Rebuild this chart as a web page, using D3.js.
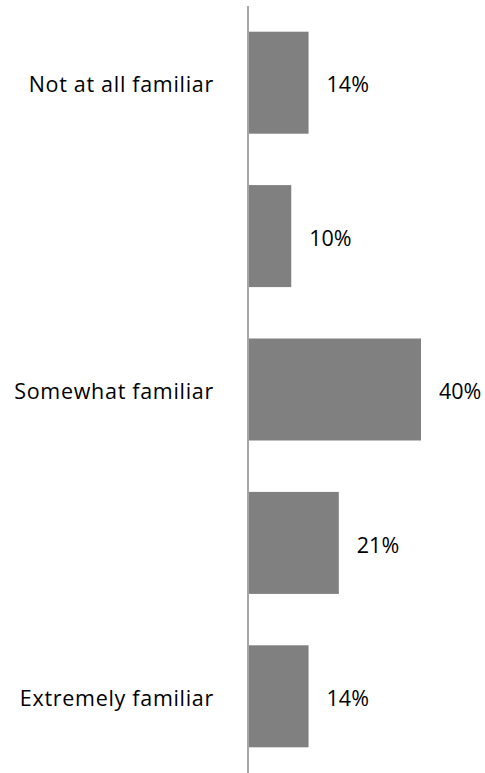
<!DOCTYPE html>
<html>
<head>
<meta charset="utf-8">
<script src="https://cdn.jsdelivr.net/npm/d3@7"></script>
<style>
  html, body { margin: 0; padding: 0; background: #fff; }
  svg { display: block; }
</style>
</head>
<body>
<svg id="chart" width="485" height="773"></svg>
<script>
// Familiarity levels, top to bottom; only every other level carries a text label
const categories = ["Not at all familiar", "Level 2", "Somewhat familiar", "Level 4", "Extremely familiar"];
const axisLabels = ["Not at all familiar", "", "Somewhat familiar", "", "Extremely familiar"];
const values = [14, 10, 40, 21, 14];

const svg = d3.select("#chart");
const axisX = 248;
const font = "'Open Sans', 'Liberation Sans', sans-serif";
const fontSize = 21.5;

const y = d3.scaleBand()
  .domain(categories)
  .range([6, 773])
  .paddingInner(0.335)
  .paddingOuter(0.1675);

const x = d3.scaleLinear()
  .domain([0, 40])
  .range([axisX, axisX + 173]);

// Bars
svg.append("g")
  .selectAll("rect")
  .data(values)
  .join("rect")
  .attr("x", x(0))
  .attr("y", (d, i) => y(categories[i]))
  .attr("width", d => x(d) - x(0))
  .attr("height", y.bandwidth())
  .attr("fill", "#808080");

// Value labels
svg.append("g")
  .selectAll("text")
  .data(values)
  .join("text")
  .attr("x", d => x(d) + 18)
  .attr("y", (d, i) => y(categories[i]) + y.bandwidth() / 2)
  .attr("dy", "0.45em")
  .attr("font-family", font)
  .attr("font-size", fontSize)
  .attr("fill", "#000")
  .text(d => d + "%");

// Category axis on the left
const axis = d3.axisLeft(y)
  .tickSize(0)
  .tickPadding(34)
  .tickFormat((d, i) => axisLabels[i]);

const g = svg.append("g")
  .attr("transform", `translate(${axisX},0)`)
  .call(axis);

g.select(".domain")
  .attr("d", `M0,6V773`)
  .attr("stroke", "#a6a6a6")
  .attr("stroke-width", 2);

g.selectAll(".tick text")
  .attr("dy", "0.45em")
  .attr("font-family", font)
  .attr("font-size", fontSize)
  .attr("letter-spacing", "0.7px")
  .attr("fill", "#000");
</script>
</body>
</html>
